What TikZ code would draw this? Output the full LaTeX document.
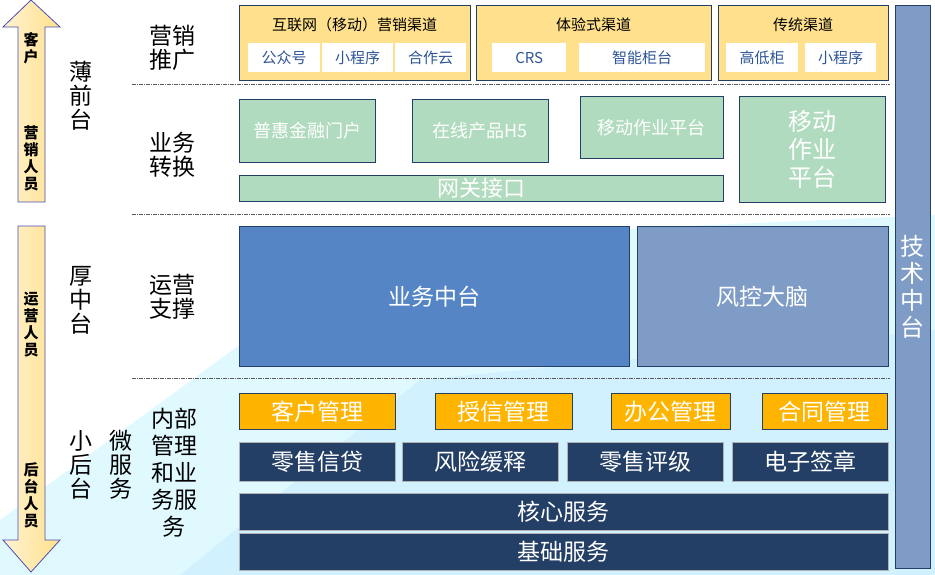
\documentclass[tikz,border=0pt]{standalone}
\usepackage{fontspec}
\setmainfont{Noto Sans CJK SC}
\usetikzlibrary{shapes.arrows}
\definecolor{ylw}{HTML}{FFE08C}
\definecolor{grn}{HTML}{B0DBBE}
\definecolor{navy}{HTML}{243F66}
\definecolor{bmid}{HTML}{5585C5}
\definecolor{bgry}{HTML}{7E9CC6}
\definecolor{org}{HTML}{FFB400}
\definecolor{txtb}{HTML}{2F5597}
\tikzset{
  blk/.style={draw=navy, line width=0.8pt, inner sep=0pt, anchor=north west, text=white, align=center},
  lbl/.style={align=center, font=\fontsize{23}{24}\selectfont, inner sep=0pt},
  side/.style={align=center, font=\fontsize{15}{17}\selectfont\bfseries, inner sep=0pt},
  sep/.style={dash pattern=on 4pt off 1pt on 1pt off 1pt, gray!70!black, line width=0.6pt},
  arr/.style={draw=gray!60!blue, line width=0.8pt, left color=ylw!40, right color=ylw}
}
\begin{document}
\begin{tikzpicture}[x=1pt, y=-1pt]
\useasboundingbox (0,0) rectangle (935,575);
% background
\fill[blue!20!cyan!12] (0,520)--(260,330)--(600,230)--(935,215)--(935,575)--(0,575)--cycle;
\fill[blue!30!cyan!18] (180,575)--(420,380)--(935,330)--(935,575)--cycle;

% left arrows
\draw[arr] (31,0)--(60,27)--(45,27)--(45,202)--(18,202)--(18,27)--(3,27)--cycle;
\draw[arr] (18,226)--(45,226)--(45,540)--(60,540)--(31,572)--(3,540)--(18,540)--cycle;
\node[side] (kehu) at (31,48) {客\\户};
\node[side] (yingxiao) at (31,158) {营\\销\\人\\员};
\node[side] (yunying) at (31,325) {运\\营\\人\\员};
\node[side] (houtai) at (31,495) {后\\台\\人\\员};

% layer labels
\node[lbl] (qian) at (81,96) {薄\\前\\台};
\node[lbl] (zhong) at (81,300) {厚\\中\\台};
\node[lbl] (hou) at (81,465) {小\\后\\台};
\node[lbl] (wei) at (121,465) {微\\服\\务};
\node[lbl] (tuiguang) at (172,48) {营销\\推广};
\node[lbl] (zhuanhuan) at (172,155) {业务\\转换};
\node[lbl] (zhicheng) at (172,297) {运营\\支撑};
\node[lbl, font=\fontsize{23}{27}\selectfont] (neibu) at (174,473) {内部\\管理\\和业\\务服\\务};

\foreach \y in {84,214,378}
    \draw[sep] (132,\y)--(890,\y);

% marketing channels
\foreach \n/\a/\b/\t in {hulian/239/470/互联网（移动）营销渠道, tiyan/476/711/体验式渠道, chuantong/718/888/传统渠道}
{
    \node[blk, fill=ylw, minimum width={(\b-\a)*1pt}, minimum height=75pt] (\n) at (\a,5) {};
    \node[font=\fontsize{15}{16}\selectfont] at ({(\a+\b)/2},25) {\t};
}
\foreach \n/\a/\b/\t in {gzh/248/320/公众号, xcx/322/393/小程序, hzy/395/466/合作云, crs/492/566/CRS, zngt/579/705/智能柜台, gdg/726/798/高低柜, xcxb/805/876/小程序}
    \node[fill=white, inner sep=0pt, anchor=north west, minimum width={(\b-\a)*1pt}, minimum height=29pt,
          text=txtb, font=\fontsize{15}{16}\selectfont] (\n) at (\a,43) {\t};

% business conversion
\foreach \n/\a/\c/\b/\d/\t in {puhui/239/99/375/162/普惠金融门户, zaixian/412/99/548/162/在线产品H5, yidong/580/96/723/158/移动作业平台}
    \node[blk, fill=grn, minimum width={(\b-\a)*1pt}, minimum height={(\d-\c)*1pt},
          font=\fontsize{18}{19}\selectfont] (\n) at (\a,\c) {\t};
\node[blk, fill=grn, minimum width=146pt, minimum height=106pt, font=\fontsize{24}{28}\selectfont] (yidongb) at (739,96) {移动\\作业\\平台};
\node[blk, fill=grn, minimum width=484pt, minimum height=26pt, font=\fontsize{22}{22}\selectfont] (wangguan) at (239,175) {网关接口};

% middle platform
\node[blk, fill=bmid, minimum width=390pt, minimum height=140pt, font=\fontsize{23}{24}\selectfont] (yewu) at (239,226) {业务中台};
\node[blk, fill=bgry, minimum width=251pt, minimum height=140pt, font=\fontsize{23}{24}\selectfont] (fengkong) at (637,226) {风控大脑};
\node[blk, fill=bgry, minimum width=35pt, minimum height=563pt, font=\fontsize{24}{27}\selectfont] (jishu) at (895,5) {技\\术\\中\\台};

% back office
\foreach \n/\a/\b/\t in {kehu/239/395/客户管理, shouxin/435/572/授信管理, bangong/611/730/办公管理, hetong/762/887/合同管理}
    \node[blk, fill=org, minimum width={(\b-\a)*1pt}, minimum height=36pt, font=\fontsize{23}{24}\selectfont] (\n) at (\a,393) {\t};
\foreach \n/\a/\t in {lingshou/239/零售信贷, fengxian/402/风险缓释, pingji/567/零售评级, qianzhang/732/电子签章}
    \node[blk, fill=navy, draw=gray!60, minimum width=156pt, minimum height=39pt, font=\fontsize{23}{24}\selectfont] (\n) at (\a,442) {\t};
\node[blk, fill=navy, draw=gray!60, minimum width=649pt, minimum height=37pt, font=\fontsize{23}{24}\selectfont] (hexin) at (239,493) {核心服务};
\node[blk, fill=navy, draw=gray!60, minimum width=649pt, minimum height=37pt, font=\fontsize{23}{24}\selectfont] (jichu) at (239,533) {基础服务};
\end{tikzpicture}
\end{document}
